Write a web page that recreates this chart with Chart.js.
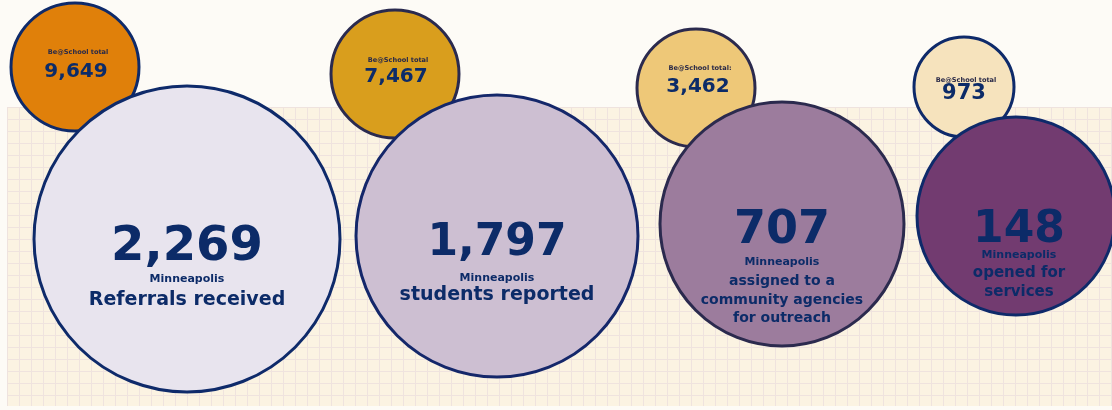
<!DOCTYPE html>
<html>
<head>
<meta charset="utf-8">
<script src="https://cdn.jsdelivr.net/npm/chart.js@4/dist/chart.umd.min.js"></script>
<style>
  html, body { margin: 0; padding: 0; background: #fdfbf6; }
  #wrap { width: 1112px; height: 410px; }
</style>
</head>
<body>
<div id="wrap"><canvas id="funnelChart"></canvas></div>
<script>
const stageLabels = [
  ['Referrals received'],
  ['students reported'],
  ['assigned to a', 'community agencies', 'for outreach'],
  ['opened for', 'services']
];
const beAtSchoolTotals = [9649, 7467, 3462, 973];
const minneapolisCounts = [2269, 1797, 707, 148];

// layout (chart units = pixels)
const bigX = [187, 497, 782, 1016];
const bigY = [239, 236, 224, 216];
const bigR = [153, 141, 122, 99];
const smallX = [75, 395, 696, 964];
const smallY = [67, 74, 88, 87];
const smallR = [64, 64, 59, 50];

const bigFill = ['#e8e4ee', '#cdbfd2', '#9c7c9d', '#723b70'];
const bigBorder = ['#0e2a6a', '#14276a', '#2b2a4e', '#0e2a6a'];
const smallFill = ['#e0800a', '#d99e1d', '#eec878', '#f6e3bd'];
const smallBorder = ['#0e2a6a', '#2a2a4f', '#2b2a4e', '#0e2a6a'];

const navy = '#0c2b68';
const font = '"DejaVu Sans", Verdana, sans-serif';
const fmt = n => n.toLocaleString('en-US');

// text placement relative to bubble centres
const numSize = [48, 44, 46, 44];
const numDy = [21, 19, 19, 26];
const textDx = [0, 0, 0, 3];
const minnDy = [43, 45, 41, 42];
const labelSize = [19, 19, 14, 15];
const labelDy = [66, 64, 61, 61];
const lineGap = [0, 0, 18.5, 19];
const totNumDy = [10, 8, 4, 12];
const totLabelDy = [-13, -12, -18, -5];
const totDx = [1, 1, 2, 0];
const totLabelText = ['Be@School total', 'Be@School total', 'Be@School total:', 'Be@School total'];

const gridBg = {
  id: 'gridBg',
  beforeDraw(chart) {
    const c = chart.ctx;
    c.save();
    c.fillStyle = '#fdfbf6';
    c.fillRect(0, 0, chart.width, chart.height);
    const x0 = 7, y0 = 107, x1 = chart.width, y1 = 406;
    c.fillStyle = '#fbf3e2';
    c.fillRect(x0, y0, x1 - x0, y1 - y0);
    c.strokeStyle = '#efe3de';
    c.lineWidth = 1;
    c.beginPath();
    for (let x = x0 + 0.5; x < x1; x += 12) { c.moveTo(x, y0); c.lineTo(x, y1); }
    for (let y = y0 + 0.5; y < y1; y += 12) { c.moveTo(x0, y); c.lineTo(x1, y); }
    c.stroke();
    c.restore();
  }
};

const bubbleText = {
  id: 'bubbleText',
  afterDatasetsDraw(chart) {
    const c = chart.ctx;
    const big = chart.getDatasetMeta(0).data;
    const small = chart.getDatasetMeta(1).data;
    c.save();
    c.textAlign = 'center';
    c.textBaseline = 'alphabetic';
    c.fillStyle = navy;
    minneapolisCounts.forEach((v, i) => {
      const x = big[i].x + textDx[i], y = big[i].y;
      c.font = `bold ${numSize[i]}px ${font}`;
      c.fillText(fmt(v), x, y + numDy[i]);
      c.font = `bold 11px ${font}`;
      c.fillText('Minneapolis', x, y + minnDy[i]);
      c.font = `bold ${labelSize[i]}px ${font}`;
      stageLabels[i].forEach((line, j) => c.fillText(line, x, y + labelDy[i] + j * lineGap[i]));
    });
    beAtSchoolTotals.forEach((v, i) => {
      const x = small[i].x + totDx[i], y = small[i].y;
      c.fillStyle = '#2a2a48';
      c.font = `bold 6.6px ${font}`;
      c.fillText(totLabelText[i], x + 2, y + totLabelDy[i]);
      c.fillStyle = navy;
      c.font = `bold ${i === 3 ? 21 : 20}px ${font}`;
      c.fillText(fmt(v), x, y + totNumDy[i]);
    });
    c.restore();
  }
};

new Chart(document.getElementById('funnelChart'), {
  type: 'bubble',
  data: {
    datasets: [
      {
        label: 'Minneapolis',
        data: minneapolisCounts.map((v, i) => ({ x: bigX[i], y: bigY[i], r: bigR[i], v })),
        backgroundColor: bigFill,
        borderColor: bigBorder,
        borderWidth: 3,
        clip: false
      },
      {
        label: 'Be@School total',
        data: beAtSchoolTotals.map((v, i) => ({ x: smallX[i], y: smallY[i], r: smallR[i], v })),
        backgroundColor: smallFill,
        borderColor: smallBorder,
        borderWidth: 3,
        clip: false
      }
    ]
  },
  options: {
    responsive: true,
    maintainAspectRatio: false,
    animation: false,
    layout: { padding: 0, autoPadding: false },
    plugins: { legend: { display: false }, tooltip: { enabled: false } },
    elements: { point: { hoverRadius: 0, hoverBorderWidth: 3 } },
    scales: {
      x: { type: 'linear', min: 0, max: 1112, display: false },
      y: { type: 'linear', min: 0, max: 410, reverse: true, display: false }
    }
  },
  plugins: [gridBg, bubbleText]
});
</script>
</body>
</html>
